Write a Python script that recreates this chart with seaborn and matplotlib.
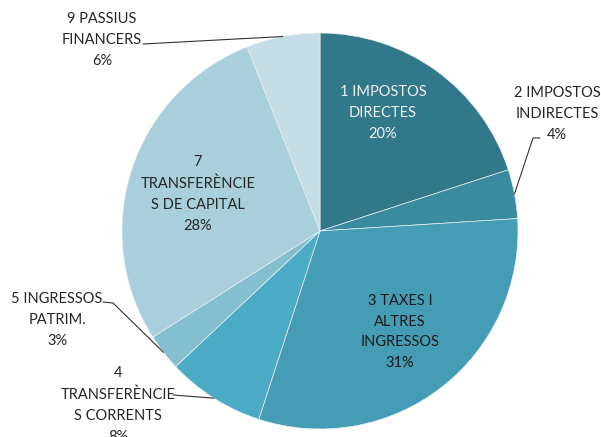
import matplotlib
matplotlib.use("Agg")
import matplotlib.pyplot as plt
import numpy as np
import seaborn as sns

sns.set_style("white")
plt.rcParams["font.family"] = ["Lato", "DejaVu Sans"]

# data
categories = ["1 IMPOSTOS\nDIRECTES", "2 IMPOSTOS\nINDIRECTES", "3 TAXES I\nALTRES\nINGRESSOS",
              "4\nTRANSFERÈNCIE\nS CORRENTS", "5 INGRESSOS\nPATRIM.",
              "7\nTRANSFERÈNCIE\nS DE CAPITAL", "9 PASSIUS\nFINANCERS"]
shares = [20, 4, 31, 8, 3, 28, 6]
colors = sns.color_palette(["#31788A", "#3B8BA0", "#459DB5", "#4BABC4",
                            "#84BFD0", "#A9CEDC", "#C4DDE6"])

# layout (pixels in a 601x437 canvas, pie centre 320,231, radius 198)
W, H = 601, 437
CX, CY, R = 320, 231, 198
label_pos = [(383, 113), (557, 114), (400, 332), (118, 405), (57, 320), (198, 194), (102, 40)]
label_col = ["#F2F2F2", "#262626", "#1A1A1A", "#262626", "#262626", "#262626", "#262626"]
# leader start + elbow (pixels); None = label sits inside
leaders = [None, [(540, 138), (533, 138)], None, [(173, 395)], [(103, 302), (113, 303)],
           None, [(143, 44)]]


def px(x, y):
    return (x - CX) / R, (CY - y) / R


fig = plt.figure(figsize=(W / 100, H / 100), dpi=100)
ax = fig.add_axes([0, 0, 1, 1])
wedges, _ = ax.pie(shares, colors=colors, startangle=90, counterclock=False,
                   radius=1, wedgeprops=dict(edgecolor="#e6eef1", linewidth=0.5))
ax.set_xlim(-CX / R, (W - CX) / R)
ax.set_ylim(-(H - CY) / R, CY / R)
ax.set_aspect("equal")
ax.axis("off")

for i, (cat, val) in enumerate(zip(categories, shares)):
    tx, ty = px(*label_pos[i])
    ax.text(tx, ty, f"{cat}\n{val}%", ha="center", va="center", fontsize=10.5,
            color=label_col[i], linespacing=1.62)
    if leaders[i] is not None:
        w = wedges[i]
        mid = np.deg2rad((w.theta1 + w.theta2) / 2)
        pts = [px(*p) for p in leaders[i]] + [(np.cos(mid), np.sin(mid))]
        xs, ys = zip(*pts)
        ax.plot(xs, ys, color="#333333", lw=0.8)

fig.savefig("out.png", dpi=100)
